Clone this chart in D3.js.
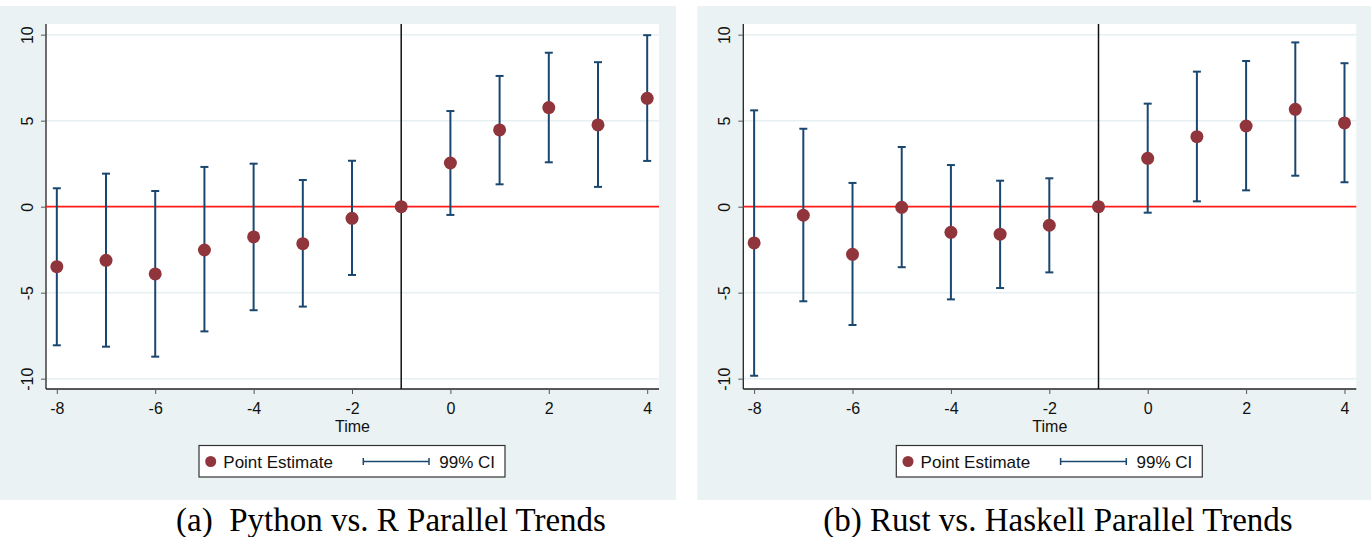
<!DOCTYPE html>
<html>
<head>
<meta charset="utf-8">
<script src="https://cdn.jsdelivr.net/npm/d3@7"></script>
<style>
    html, body { margin: 0; padding: 0; background: #fff; }
    svg { display: block; }
    .tick-label { font-family: "Liberation Sans", Arial, sans-serif; font-size: 16px; fill: #111; }
    .axis-title { font-family: "Liberation Sans", Arial, sans-serif; font-size: 16px; fill: #111; }
    .legend-text { font-family: "Liberation Sans", Arial, sans-serif; font-size: 17px; fill: #111; }
    .caption { font-family: "Liberation Serif", "Times New Roman", serif; font-size: 33px; fill: #000; white-space: pre; }
</style>
</head>
<body>
<svg id="chart" width="1371" height="537"></svg>
<script>
// event time
var times = [-8, -7, -6, -5, -4, -3, -2, -1, 0, 1, 2, 3, 4];

// (a) Python vs. R
var pyEstimate = [-3.49, -3.12, -3.91, -2.52, -1.76, -2.15, -0.68, 0, 2.54, 4.46, 5.76, 4.75, 6.30];
var pyLower    = [-8.06, -8.14, -8.72, -7.25, -6.02, -5.81, -3.97, null, -0.48, 1.30, 2.58, 1.15, 2.66];
var pyUpper    = [1.07, 1.92, 0.91, 2.31, 2.50, 1.55, 2.67, null, 5.56, 7.60, 8.95, 8.40, 9.97];

// (b) Rust vs. Haskell
var rsEstimate = [-2.11, -0.50, -2.77, -0.04, -1.49, -1.60, -1.08, 0, 2.81, 4.07, 4.69, 5.66, 4.87];
var rsLower    = [-9.83, -5.50, -6.88, -3.52, -5.39, -4.73, -3.82, null, -0.35, 0.31, 0.95, 1.80, 1.42];
var rsUpper    = [5.60, 4.53, 1.38, 3.47, 2.42, 1.51, 1.65, null, 5.99, 7.85, 8.47, 9.55, 8.34];

var xTicks = [-8, -6, -4, -2, 0, 2, 4];
var yTicks = [-10, -5, 0, 5, 10];
var eventLine = -1;

var captions = ['(a)  Python vs. R Parallel Trends', '(b) Rust vs. Haskell Parallel Trends'];

var colors = {
    bg: '#eaf2f3',
    grid: '#e6eff1',
    point: '#90353b',
    ci: '#1a476f',
    zero: '#ff1a1a',
    axis: '#222'
};

var svg = d3.select('#chart');

// plain hyphen for negatives, like the original
function fmt(d) { return String(d); }

function drawPanel(offsetX, est, lo, hi, caption, captionX) {
    var g = svg.append('g').attr('transform', 'translate(' + offsetX + ',0)');

    var plot = { left: 46, right: 659, top: 24, bottom: 389 };

    var x = d3.scaleLinear().domain([-8.22, 4.24]).range([plot.left, plot.right]),
        y = d3.scaleLinear().domain([-10.6, 10.62]).range([plot.bottom, plot.top]);

    var rows = times.map(function (t, i) {
        return { t: t, est: est[i], lo: lo[i], hi: hi[i] };
    });

    // graph region
    g.append('rect')
        .attr('x', 0).attr('y', 6)
        .attr('width', 676).attr('height', 494)
        .attr('fill', colors.bg);

    g.append('rect')
        .attr('x', plot.left).attr('y', plot.top)
        .attr('width', plot.right - plot.left).attr('height', plot.bottom - plot.top)
        .attr('fill', '#fff');

    // gridlines
    g.selectAll('.grid')
        .data(yTicks.filter(function (d) { return d !== 0; }))
        .enter().append('line')
        .attr('x1', plot.left).attr('x2', plot.right)
        .attr('y1', y).attr('y2', y)
        .attr('stroke', colors.grid)
        .attr('stroke-width', 1.5);

    // y axis
    var yAxis = d3.axisLeft(y).tickValues(yTicks).tickSize(5).tickFormat(fmt);
    var ya = g.append('g').attr('transform', 'translate(' + plot.left + ',0)').call(yAxis);
    ya.attr('font-family', null).attr('font-size', null);
    ya.select('.domain').attr('stroke', colors.axis).attr('stroke-width', 1.3)
        .attr('d', 'M0,' + plot.top + 'V' + plot.bottom);
    ya.selectAll('.tick line').attr('stroke', '#555');
    ya.selectAll('.tick text')
        .attr('class', 'tick-label')
        .attr('x', null).attr('dy', null)
        .attr('transform', 'translate(-13,0) rotate(-90)')
        .attr('text-anchor', 'middle');

    // x axis
    var xAxis = d3.axisBottom(x).tickValues(xTicks).tickSize(5).tickFormat(fmt);
    var xa = g.append('g').attr('transform', 'translate(0,' + plot.bottom + ')').call(xAxis);
    xa.attr('font-family', null).attr('font-size', null);
    xa.select('.domain').attr('stroke', colors.axis).attr('stroke-width', 1.3)
        .attr('d', 'M' + plot.left + ',0H' + plot.right);
    xa.selectAll('.tick line').attr('stroke', '#555');
    xa.selectAll('.tick text')
        .attr('class', 'tick-label')
        .attr('y', 24.5).attr('dy', null);

    g.append('text')
        .attr('class', 'axis-title')
        .attr('x', (plot.left + plot.right) / 2)
        .attr('y', 431.5)
        .attr('text-anchor', 'middle')
        .text('Time');

    // reference lines
    g.append('line')
        .attr('x1', plot.left).attr('x2', plot.right)
        .attr('y1', y(0)).attr('y2', y(0))
        .attr('stroke', colors.zero).attr('stroke-width', 1.6);

    g.append('line')
        .attr('x1', x(eventLine)).attr('x2', x(eventLine))
        .attr('y1', plot.top).attr('y2', plot.bottom)
        .attr('stroke', '#111').attr('stroke-width', 1.5);

    // confidence intervals
    var ci = rows.filter(function (d) { return d.lo !== null; });
    var capW = 4;

    var bars = g.append('g').attr('stroke', colors.ci).attr('stroke-width', 2);
    bars.selectAll('.ci-v').data(ci).enter().append('line')
        .attr('x1', function (d) { return x(d.t); })
        .attr('x2', function (d) { return x(d.t); })
        .attr('y1', function (d) { return y(d.lo); })
        .attr('y2', function (d) { return y(d.hi); });
    bars.selectAll('.ci-top').data(ci).enter().append('line')
        .attr('x1', function (d) { return x(d.t) - capW; })
        .attr('x2', function (d) { return x(d.t) + capW; })
        .attr('y1', function (d) { return y(d.hi); })
        .attr('y2', function (d) { return y(d.hi); });
    bars.selectAll('.ci-bot').data(ci).enter().append('line')
        .attr('x1', function (d) { return x(d.t) - capW; })
        .attr('x2', function (d) { return x(d.t) + capW; })
        .attr('y1', function (d) { return y(d.lo); })
        .attr('y2', function (d) { return y(d.lo); });

    // point estimates
    g.selectAll('.pt').data(rows).enter().append('circle')
        .attr('cx', function (d) { return x(d.t); })
        .attr('cy', function (d) { return y(d.est); })
        .attr('r', 6.5)
        .attr('fill', colors.point);

    // legend
    var lg = g.append('g');
    lg.append('rect')
        .attr('x', 199).attr('y', 445.5)
        .attr('width', 306).attr('height', 31.5)
        .attr('fill', '#fff').attr('stroke', '#333').attr('stroke-width', 1.2);
    lg.append('circle')
        .attr('cx', 210.7).attr('cy', 461.5).attr('r', 5.5)
        .attr('fill', colors.point);
    lg.append('text').attr('class', 'legend-text')
        .attr('x', 223.3).attr('y', 468)
        .text('Point Estimate');
    lg.append('line')
        .attr('x1', 363.3).attr('x2', 429).attr('y1', 461.5).attr('y2', 461.5)
        .attr('stroke', colors.ci).attr('stroke-width', 1.5);
    lg.selectAll('.lg-cap').data([363.3, 429]).enter().append('line')
        .attr('x1', function (d) { return d; }).attr('x2', function (d) { return d; })
        .attr('y1', 458).attr('y2', 465)
        .attr('stroke', colors.ci).attr('stroke-width', 1.5);
    lg.append('text').attr('class', 'legend-text')
        .attr('x', 439.3).attr('y', 468)
        .text('99% CI');

    // caption
    svg.append('text')
        .attr('class', 'caption')
        .attr('x', captionX).attr('y', 531)
        .attr('text-anchor', 'middle')
        .text(caption);
}

drawPanel(0, pyEstimate, pyLower, pyUpper, captions[0], 391);
drawPanel(697.3, rsEstimate, rsLower, rsUpper, captions[1], 1058);
</script>
</body>
</html>
